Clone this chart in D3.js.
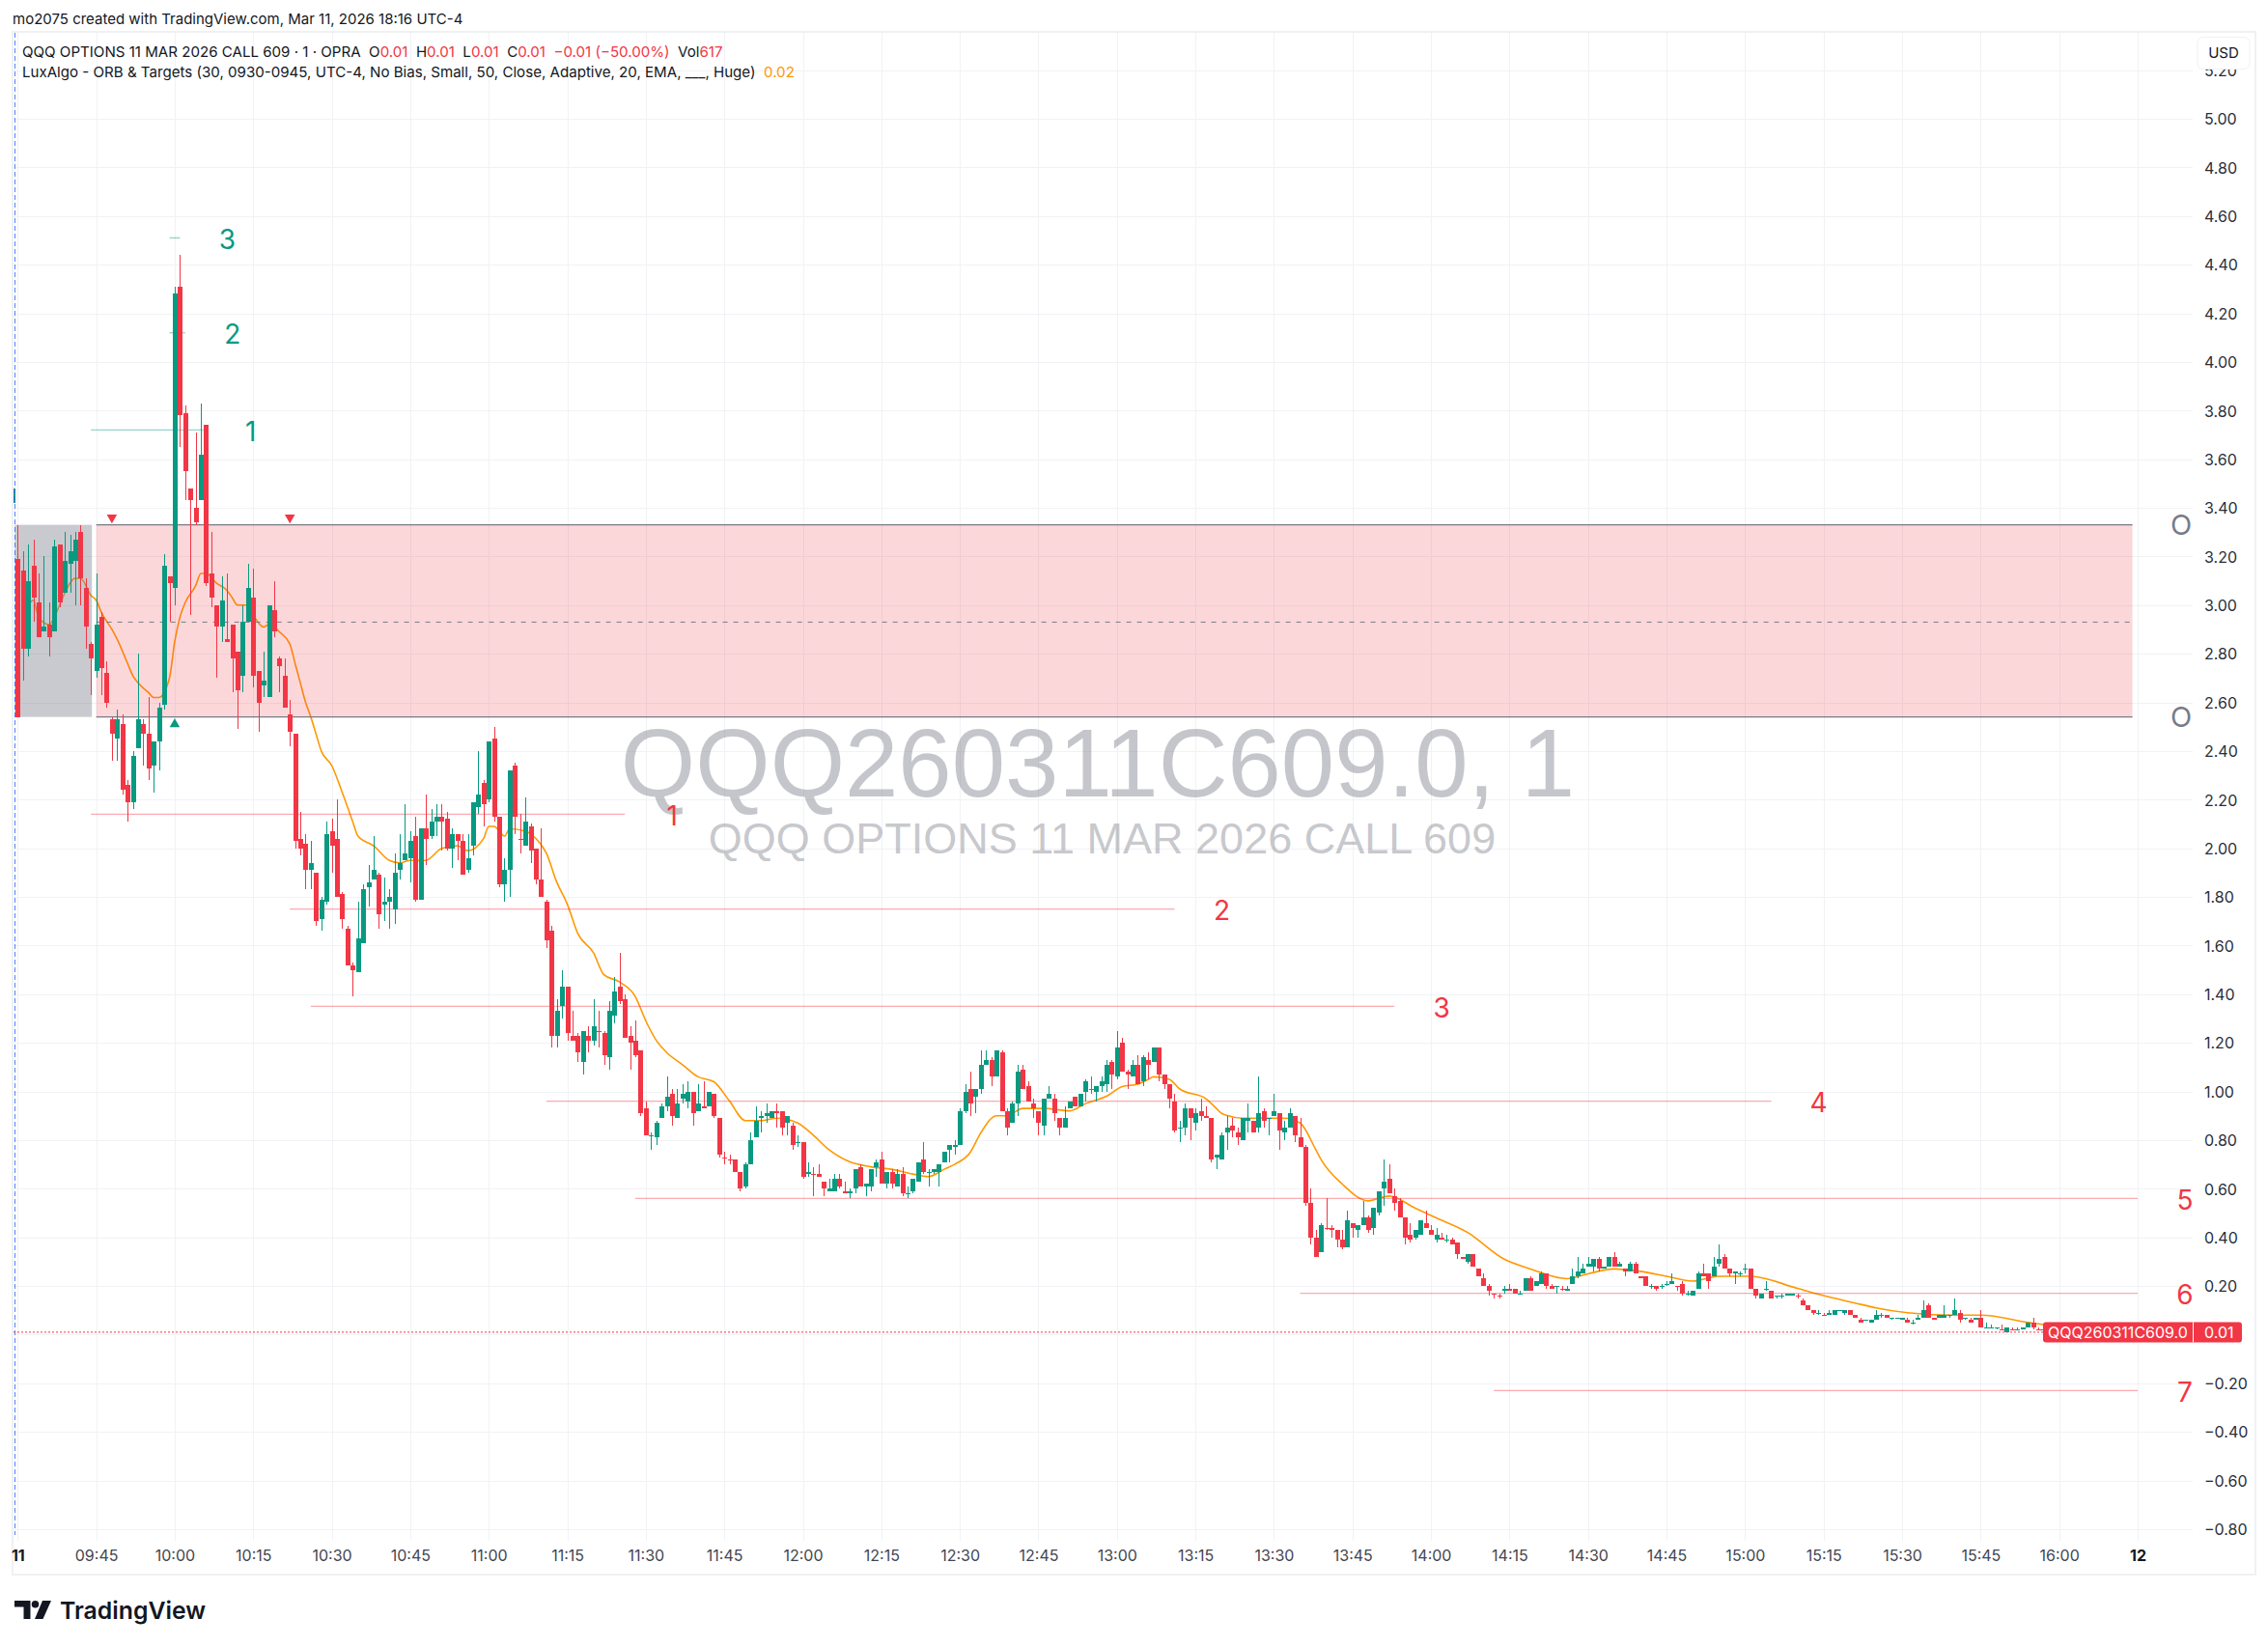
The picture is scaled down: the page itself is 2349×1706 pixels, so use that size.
<!DOCTYPE html>
<html>
<head>
<meta charset="utf-8">
<script src="https://cdn.jsdelivr.net/npm/d3@7"></script>
<style>
html, body { margin: 0; padding: 0; background: #fff; }
svg { display: block; font-family: Inter, "Noto Sans", sans-serif; }
</style>
</head>
<body>
<div id="chart"></div>
<script>
// minute of the session for each candle, 0 = 09:30 (-1 is the last bar of the day before)
var minutes = d3.range(-1, 390);

var opens = [3.42,
3.19,3.14,2.82,3.16,3.01,2.89,2.92,2.89,3.25,3.05,
3.17,3.18,3.30,3.07,2.84,2.73,2.95,2.72,2.53,2.45,
2.51,2.26,2.19,2.41,2.51,2.47,2.34,2.44,2.59,3.12,
3.07,4.31,3.79,3.48,3.40,3.43,3.74,3.13,3.00,2.91,
2.86,2.92,2.81,2.71,2.93,3.03,2.73,2.67,2.62,2.98,
2.78,2.71,2.55,2.47,2.04,2.02,1.91,1.90,1.71,1.78,
2.07,2.04,1.81,1.67,1.52,1.49,1.61,1.84,1.87,1.89,
1.77,1.78,1.75,1.91,1.95,1.96,2.05,1.79,2.08,2.05,
2.11,2.13,2.12,2.00,2.06,2.03,1.91,2.01,2.17,2.27,
2.20,2.45,2.13,1.85,1.91,2.34,2.04,2.01,2.09,2.00,
1.87,1.78,1.66,1.23,1.35,1.43,1.23,1.23,1.12,1.23,
1.21,1.25,1.24,1.14,1.31,1.43,1.38,1.23,1.21,1.17,
0.93,0.82,0.81,0.89,0.94,0.99,0.89,0.97,0.96,1.00,
0.92,0.94,0.94,0.99,0.89,0.73,0.72,0.72,0.67,0.61,
0.70,0.81,0.89,0.90,0.89,0.92,0.92,0.87,0.86,0.79,
0.79,0.66,0.66,0.66,0.63,0.59,0.59,0.64,0.59,0.58,
0.60,0.69,0.61,0.61,0.69,0.72,0.62,0.67,0.61,0.66,
0.58,0.59,0.63,0.72,0.67,0.67,0.67,0.71,0.76,0.77,
0.78,0.92,1.01,0.98,1.01,1.11,1.13,1.06,1.16,0.92,
0.87,0.95,1.09,1.02,0.95,0.92,0.86,0.97,0.97,0.89,
0.85,0.93,0.98,0.94,1.00,1.01,1.00,1.02,1.03,1.12,
1.06,1.20,1.08,1.06,1.11,1.04,1.13,1.12,1.18,1.07,
1.03,0.96,0.85,0.85,0.93,0.87,0.92,0.90,0.89,0.73,
0.72,0.83,0.86,0.83,0.80,0.88,0.88,0.85,0.92,0.89,
0.90,0.91,0.83,0.85,0.90,0.81,0.77,0.54,0.40,0.34,
0.44,0.44,0.43,0.39,0.36,0.46,0.43,0.45,0.48,0.44,
0.50,0.60,0.64,0.57,0.55,0.48,0.41,0.40,0.41,0.46,
0.43,0.39,0.40,0.39,0.39,0.38,0.32,0.30,0.33,0.27,
0.23,0.20,0.17,0.16,0.18,0.19,0.19,0.17,0.18,0.23,
0.20,0.21,0.25,0.20,0.20,0.19,0.18,0.21,0.24,0.25,
0.28,0.28,0.31,0.27,0.28,0.32,0.28,0.27,0.26,0.29,
0.24,0.24,0.20,0.20,0.20,0.21,0.21,0.20,0.21,0.17,
0.16,0.19,0.25,0.25,0.24,0.29,0.32,0.27,0.25,0.25,
0.27,0.27,0.19,0.15,0.19,0.18,0.16,0.16,0.16,0.16,
0.16,0.14,0.12,0.10,0.09,0.08,0.08,0.08,0.10,0.09,
0.10,0.08,0.06,0.06,0.05,0.06,0.08,0.08,0.07,0.07,
0.06,0.06,0.05,0.06,0.07,0.12,0.07,0.07,0.07,0.08,
0.08,0.09,0.07,0.06,0.06,0.07,0.03,0.03,0.03,0.02,
0.01,0.02,0.02,0.02,0.03,0.05,0.02,0.02,0.02,0.01];

var highs = [3.48,
3.33,3.22,3.25,3.27,3.13,3.20,3.01,3.27,3.25,3.30,
3.29,3.30,3.33,3.11,2.85,3.13,2.97,2.77,2.54,2.57,
2.55,2.28,2.40,2.80,2.53,2.62,2.44,2.60,3.21,3.12,
4.31,4.44,3.82,3.48,3.71,3.83,3.74,3.30,3.00,3.12,
3.13,2.92,2.81,3.00,3.17,3.15,2.73,2.81,3.00,3.10,
2.79,2.78,2.61,2.47,2.15,2.06,2.03,1.90,1.80,2.11,
2.12,2.20,1.82,1.68,1.53,1.78,1.85,1.93,2.05,1.90,
1.88,1.83,1.98,2.06,2.18,2.07,2.13,2.08,2.22,2.16,
2.18,2.18,2.15,2.08,2.06,2.06,2.06,2.19,2.40,2.28,
2.44,2.50,2.13,1.96,2.32,2.35,2.14,2.21,2.10,2.00,
2.08,1.79,1.68,1.38,1.50,1.43,1.33,1.24,1.25,1.27,
1.38,1.33,1.25,1.37,1.47,1.57,1.40,1.27,1.29,1.17,
0.96,0.83,0.88,0.95,1.06,1.01,1.01,1.03,1.04,1.00,
1.03,1.04,1.00,0.99,0.89,0.75,0.74,0.72,0.67,0.71,
0.83,0.94,0.92,0.95,0.92,0.95,0.92,0.90,0.87,0.82,
0.79,0.71,0.69,0.70,0.63,0.64,0.66,0.66,0.63,0.60,
0.68,0.70,0.62,0.68,0.72,0.75,0.67,0.68,0.68,0.69,
0.61,0.64,0.71,0.79,0.68,0.68,0.70,0.75,0.78,0.80,
0.93,1.03,1.08,1.01,1.17,1.17,1.14,1.17,1.17,0.93,
0.96,1.11,1.11,1.04,0.97,0.92,0.97,1.02,0.99,0.89,
0.94,0.96,0.98,0.99,1.05,1.06,1.02,1.06,1.13,1.13,
1.25,1.22,1.09,1.13,1.15,1.15,1.16,1.18,1.18,1.07,
1.03,0.99,0.88,0.95,0.93,0.93,0.97,0.94,0.89,0.74,
0.83,0.90,0.89,0.85,0.89,0.95,0.88,1.06,0.93,0.89,
0.99,0.91,0.88,0.93,0.90,0.89,0.78,0.60,0.43,0.46,
0.56,0.45,0.43,0.43,0.51,0.46,0.45,0.55,0.49,0.52,
0.59,0.72,0.70,0.60,0.56,0.48,0.46,0.43,0.47,0.51,
0.45,0.44,0.42,0.41,0.40,0.38,0.32,0.33,0.33,0.27,
0.25,0.21,0.17,0.17,0.20,0.21,0.19,0.18,0.23,0.24,
0.22,0.26,0.25,0.21,0.20,0.20,0.20,0.27,0.32,0.29,
0.32,0.31,0.32,0.28,0.32,0.34,0.30,0.27,0.30,0.30,
0.24,0.24,0.21,0.20,0.21,0.22,0.25,0.20,0.22,0.18,
0.18,0.26,0.29,0.25,0.32,0.37,0.33,0.27,0.26,0.26,
0.29,0.27,0.19,0.17,0.22,0.18,0.16,0.17,0.17,0.17,
0.17,0.15,0.12,0.10,0.10,0.09,0.10,0.10,0.10,0.10,
0.10,0.08,0.07,0.06,0.06,0.10,0.09,0.08,0.07,0.07,
0.07,0.07,0.06,0.08,0.14,0.13,0.07,0.08,0.12,0.08,
0.15,0.10,0.07,0.07,0.07,0.10,0.05,0.04,0.03,0.04,
0.03,0.03,0.03,0.03,0.05,0.07,0.03,0.02,0.02,0.01];

var lows = [3.42,
2.54,2.69,2.79,2.93,2.87,2.89,2.79,2.89,2.99,3.05,
3.05,3.00,3.00,2.82,2.63,2.70,2.63,2.58,2.36,2.36,
2.22,2.11,2.16,2.41,2.34,2.28,2.23,2.32,2.57,2.93,
3.00,3.65,3.43,2.96,3.33,3.43,3.08,2.99,2.70,2.85,
2.85,2.64,2.49,2.64,2.93,2.66,2.48,2.62,2.62,2.87,
2.64,2.58,2.42,2.00,1.97,1.83,1.83,1.68,1.66,1.77,
1.90,1.80,1.67,1.52,1.39,1.49,1.61,1.76,1.87,1.67,
1.70,1.67,1.69,1.87,1.95,1.86,1.78,1.79,1.93,2.04,
2.05,1.99,1.99,1.92,1.95,1.89,1.90,1.97,2.14,2.09,
2.19,2.11,1.84,1.78,1.80,2.06,1.98,2.01,1.94,1.85,
1.80,1.59,1.18,1.18,1.30,1.21,1.21,1.12,1.07,1.16,
1.19,1.18,1.11,1.09,1.28,1.36,1.22,1.09,1.14,0.90,
0.82,0.76,0.78,0.89,0.92,0.86,0.89,0.95,0.93,0.86,
0.92,0.93,0.94,0.89,0.73,0.70,0.70,0.67,0.59,0.60,
0.70,0.81,0.83,0.87,0.89,0.85,0.82,0.82,0.76,0.77,
0.64,0.65,0.57,0.65,0.57,0.59,0.59,0.60,0.58,0.56,
0.58,0.61,0.57,0.59,0.65,0.62,0.60,0.60,0.61,0.57,
0.56,0.58,0.63,0.66,0.61,0.66,0.61,0.71,0.71,0.74,
0.78,0.91,0.90,0.91,0.99,1.11,1.02,1.06,0.92,0.82,
0.87,0.90,1.01,0.96,0.89,0.82,0.82,0.97,0.88,0.82,
0.85,0.93,0.94,0.94,0.96,0.99,0.96,1.00,1.00,1.01,
1.05,1.08,1.01,1.06,1.03,1.02,1.05,1.12,1.04,1.01,
0.93,0.83,0.79,0.82,0.80,0.84,0.88,0.89,0.71,0.68,
0.72,0.76,0.81,0.78,0.80,0.83,0.83,0.83,0.85,0.82,
0.90,0.76,0.80,0.85,0.79,0.77,0.53,0.37,0.32,0.34,
0.43,0.40,0.36,0.35,0.36,0.40,0.40,0.45,0.42,0.41,
0.49,0.53,0.58,0.51,0.48,0.37,0.38,0.39,0.41,0.44,
0.41,0.38,0.39,0.38,0.37,0.31,0.31,0.29,0.28,0.24,
0.20,0.16,0.15,0.15,0.17,0.18,0.17,0.17,0.18,0.18,
0.20,0.21,0.19,0.19,0.17,0.18,0.18,0.21,0.23,0.25,
0.28,0.26,0.26,0.27,0.28,0.28,0.28,0.24,0.26,0.25,
0.23,0.20,0.19,0.18,0.19,0.20,0.21,0.18,0.16,0.16,
0.16,0.19,0.24,0.19,0.24,0.28,0.27,0.24,0.21,0.24,
0.25,0.19,0.15,0.15,0.18,0.15,0.15,0.15,0.16,0.16,
0.15,0.12,0.10,0.08,0.08,0.08,0.08,0.08,0.10,0.08,
0.08,0.07,0.05,0.06,0.05,0.06,0.07,0.07,0.06,0.07,
0.06,0.05,0.04,0.06,0.07,0.07,0.06,0.07,0.07,0.07,
0.08,0.05,0.06,0.05,0.06,0.03,0.03,0.03,0.02,0.02,
0.01,0.02,0.02,0.02,0.03,0.02,0.02,0.01,0.01,0.01];

var closes = [3.48,
2.54,2.82,3.10,3.03,2.87,2.91,2.87,3.24,3.01,3.18,
3.22,3.27,3.11,2.91,2.78,2.92,2.74,2.60,2.47,2.53,
2.24,2.19,2.38,2.53,2.47,2.33,2.44,2.58,3.16,3.09,
4.28,3.78,3.55,3.43,3.34,3.62,3.09,3.03,2.91,3.02,
2.85,2.78,2.65,2.93,3.07,2.71,2.60,2.69,3.00,2.89,
2.75,2.58,2.48,2.03,2.00,1.91,1.94,1.70,1.79,2.06,
2.01,1.80,1.71,1.52,1.50,1.63,1.83,1.86,1.91,1.73,
1.78,1.80,1.90,1.94,1.98,2.03,1.79,2.08,2.04,2.11,
2.13,2.11,2.00,2.06,2.03,1.89,1.96,2.19,2.22,2.18,
2.44,2.13,1.85,1.91,2.32,2.13,2.04,2.11,1.99,1.87,
1.80,1.62,1.23,1.33,1.43,1.24,1.21,1.16,1.25,1.21,
1.27,1.25,1.15,1.33,1.41,1.37,1.22,1.20,1.15,0.91,
0.82,0.82,0.87,0.94,0.98,0.90,0.95,0.99,1.00,0.91,
0.95,0.93,1.00,0.90,0.74,0.73,0.72,0.67,0.60,0.70,
0.80,0.88,0.90,0.91,0.92,0.91,0.85,0.90,0.78,0.79,
0.65,0.67,0.66,0.65,0.60,0.60,0.64,0.61,0.58,0.59,
0.68,0.61,0.62,0.68,0.71,0.62,0.67,0.62,0.66,0.58,
0.58,0.64,0.71,0.67,0.67,0.68,0.70,0.75,0.78,0.78,
0.92,1.00,0.95,1.01,1.11,1.13,1.06,1.17,0.92,0.85,
0.95,1.08,1.01,0.96,0.93,0.87,0.97,0.99,0.91,0.85,
0.89,0.96,0.94,0.99,1.04,1.01,1.02,1.04,1.11,1.07,
1.18,1.08,1.07,1.11,1.03,1.14,1.11,1.18,1.07,1.03,
0.97,0.84,0.85,0.93,0.89,0.91,0.90,0.89,0.72,0.74,
0.82,0.85,0.84,0.81,0.89,0.89,0.83,0.91,0.88,0.89,
0.92,0.84,0.85,0.91,0.82,0.77,0.54,0.40,0.32,0.45,
0.44,0.43,0.39,0.36,0.47,0.44,0.45,0.48,0.43,0.52,
0.59,0.63,0.58,0.54,0.48,0.40,0.39,0.43,0.47,0.44,
0.41,0.41,0.39,0.39,0.37,0.33,0.31,0.33,0.28,0.24,
0.20,0.18,0.17,0.16,0.19,0.18,0.17,0.17,0.23,0.18,
0.22,0.25,0.20,0.19,0.20,0.19,0.19,0.24,0.26,0.27,
0.29,0.31,0.27,0.28,0.32,0.28,0.29,0.26,0.29,0.25,
0.23,0.20,0.20,0.19,0.20,0.21,0.22,0.20,0.17,0.17,
0.18,0.25,0.24,0.22,0.28,0.31,0.27,0.25,0.26,0.25,
0.27,0.19,0.16,0.17,0.19,0.15,0.16,0.16,0.17,0.17,
0.16,0.12,0.10,0.09,0.09,0.08,0.09,0.10,0.10,0.10,
0.08,0.07,0.05,0.06,0.06,0.08,0.08,0.07,0.07,0.07,
0.07,0.05,0.05,0.07,0.10,0.07,0.06,0.08,0.08,0.08,
0.10,0.06,0.07,0.05,0.07,0.03,0.03,0.03,0.03,0.02,
0.03,0.02,0.02,0.03,0.05,0.03,0.02,0.02,0.01,0.01];

// bars that opened and closed flat but are painted red
var flatRed = [96,111,135,136,152,205,250,282,283,295,317,340,345,379,381,386,389];

// orange adaptive EMA, read at the turning points
var emaMinutes = [1,3,4,6,8,9,11,12,14,15,16,18,19,21,22,23,25,26,27,29,30,31,32,34,35,36,38,40,41,42,44,45,47,48,49,50,52,53,54,55,56,57,58,60,62,64,65,68,71,73,75,78,81,84,86,89,90,91,93,94,97,99,101,103,105,107,110,112,115,118,120,122,124,127,130,133,136,139,142,145,149,152,155,159,163,167,171,174,177,179,182,184,187,189,192,196,201,204,208,211,214,216,217,220,222,227,229,230,234,238,242,245,248,249,253,258,262,267,271,277,284,289,296,300,305,310,315,320,325,331,340,345,351,355,361,370,375,384,387,389];
var emaValues = [2.95,3.02,2.95,2.92,3.00,3.05,3.11,3.11,3.04,3.02,2.97,2.90,2.86,2.76,2.71,2.68,2.64,2.62,2.62,2.70,2.85,2.95,3.01,3.08,3.13,3.13,3.09,3.06,3.03,3.00,3.00,2.96,2.91,2.92,2.91,2.89,2.84,2.76,2.68,2.60,2.54,2.47,2.40,2.34,2.23,2.11,2.05,2.01,1.95,1.94,1.95,1.95,2.00,2.01,1.99,2.04,2.09,2.09,2.05,2.08,2.07,2.04,1.98,1.86,1.77,1.65,1.57,1.48,1.45,1.39,1.29,1.21,1.16,1.11,1.06,1.04,0.96,0.88,0.88,0.89,0.87,0.82,0.76,0.71,0.69,0.68,0.66,0.65,0.68,0.70,0.75,0.83,0.90,0.90,0.93,0.93,0.92,0.95,0.98,1.02,1.03,1.05,1.06,1.05,1.01,0.97,0.93,0.91,0.89,0.89,0.89,0.87,0.76,0.72,0.62,0.55,0.57,0.52,0.48,0.42,0.31,0.27,0.23,0.25,0.27,0.26,0.24,0.22,0.24,0.24,0.19,0.16,0.13,0.11,0.09,0.08,0.08,0.05,0.04,0.02];

// opening range
var orbHigh = 3.33, orbLow = 2.54, orbMid = 2.93;
var orbStart = 15, orbEnd = 404;

// long and short targets: price, label, first and last minute of the line
var longPrices = [3.72, 4.12, 4.51];
var longLabels = ["1", "2", "3"];
var longStart = [14, 29, 29];
var longEnd = [35.5, 32, 31];

var shortPrices = [2.14, 1.75, 1.35, 0.96, 0.56, 0.17, -0.23];
var shortLabels = ["1", "2", "3", "4", "5", "6", "7"];
var shortStart = [14, 52, 56, 101, 118, 245, 282];
var shortEnd = [116, 221, 263, 335, 405, 405, 405];

// breakout markers
var markerMinutes = [18, 52, 30];
var markerPrices = [3.36, 3.36, 2.51];
var markerKinds = ["down", "down", "up"];

var yTicks = [5.2,5,4.8,4.6,4.4,4.2,4,3.8,3.6,3.4,3.2,3,2.8,2.6,2.4,2.2,2,1.8,1.6,1.4,1.2,1,0.8,0.6,0.4,0.2,0,-0.2,-0.4,-0.6,-0.8];
var xTickMinutes = [0,15,30,45,60,75,90,105,120,135,150,165,180,195,210,225,240,255,270,285,300,315,330,345,360,375,390,405];
var xTickLabels = ["11","09:45","10:00","10:15","10:30","10:45","11:00","11:15","11:30","11:45","12:00","12:15","12:30","12:45","13:00","13:15","13:30","13:45","14:00","14:15","14:30","14:45","15:00","15:15","15:30","15:45","16:00","12"];

var lastPrice = 0.01;

var up = "#089981", down = "#f23645", ink = "#131722";
var width = 2349, height = 1706;
var pane = {left: 14, right: 2271, top: 34, bottom: 1596};

var svg = d3.select("#chart")
.append("svg")
.attr("width", width)
.attr("height", height);

var x = d3.scaleLinear().domain([0, 405]).range([18.3, 2214]);
var y = d3.scaleLinear().domain([0, 5]).range([1382.4, 123]);

svg.append("clipPath").attr("id", "paneClip").append("rect")
.attr("x", pane.left).attr("y", pane.top)
.attr("width", 2335 - pane.left).attr("height", 1631 - pane.top);

// outer frame
svg.append("rect")
.attr("x", 13).attr("y", 33)
.attr("width", 2323).attr("height", 1598)
.attr("fill", "none")
.attr("stroke", "#f0f1f4")
.attr("stroke-width", 2);

// grid comes from the two axes with long tick lines
var yGrid = d3.axisLeft(y).tickValues(yTicks).tickSize(pane.right - pane.left).tickFormat("");
svg.append("g")
.attr("transform", "translate(" + pane.right + ",0)")
.call(yGrid)
.call(g => g.select(".domain").remove())
.call(g => g.selectAll("line").attr("stroke", "#f1f2f5").attr("shape-rendering", "crispEdges"));

var xGrid = d3.axisTop(x).tickValues(xTickMinutes).tickSize(pane.bottom - pane.top).tickFormat("");
svg.append("g")
.attr("transform", "translate(0," + pane.bottom + ")")
.call(xGrid)
.call(g => g.select(".domain").remove())
.call(g => g.selectAll("line").attr("stroke", "#f1f2f5").attr("shape-rendering", "crispEdges"));

// watermark
svg.append("text")
.attr("x", 1137).attr("y", 825)
.attr("text-anchor", "middle")
.attr("font-family", "'Liberation Sans', Arial, sans-serif")
.attr("font-size", 99.5)
.attr("fill", "rgba(120,123,134,0.43)")
.text("QQQ260311C609.0, 1");

svg.append("text")
.attr("x", 1141.5).attr("y", 884)
.attr("text-anchor", "middle")
.attr("font-family", "'Liberation Sans', Arial, sans-serif")
.attr("font-size", 45)
.attr("fill", "rgba(120,123,134,0.43)")
.text("QQQ OPTIONS 11 MAR 2026 CALL 609");

// ema sits under the boxes and the candles
var emaLine = d3.line()
.x((d, i) => x(emaMinutes[i]))
.y(d => y(d))
.curve(d3.curveMonotoneX);

svg.append("path")
.datum(emaValues)
.attr("d", emaLine)
.attr("fill", "none")
.attr("stroke", "#ff9800")
.attr("stroke-width", 1.6);

// grey opening range and the pink zone after it
svg.append("rect")
.attr("x", x(0) - 3)
.attr("y", y(orbHigh))
.attr("width", x(orbStart - 1) - x(0) + 4)
.attr("height", y(orbLow) - y(orbHigh))
.attr("fill", "rgba(120,123,134,0.4)");

svg.append("rect")
.attr("x", x(orbStart))
.attr("y", y(orbHigh))
.attr("width", x(orbEnd) - x(orbStart))
.attr("height", y(orbLow) - y(orbHigh))
.attr("fill", "rgba(242,54,69,0.2)");

svg.selectAll(".orbEdge")
.data([orbHigh, orbLow])
.join("line")
.attr("class", "orbEdge")
.attr("x1", x(orbStart)).attr("x2", x(orbEnd))
.attr("y1", d => y(d)).attr("y2", d => y(d))
.attr("stroke", "#787b86")
.attr("stroke-width", 1.2);

svg.append("line")
.attr("x1", x(orbStart)).attr("x2", x(orbEnd))
.attr("y1", y(orbMid)).attr("y2", y(orbMid))
.attr("stroke", "#787b86")
.attr("stroke-width", 1)
.attr("stroke-dasharray", "5,6");

svg.selectAll(".orbLabel")
.data([orbHigh, orbLow])
.join("text")
.attr("class", "orbLabel")
.attr("x", 2259)
.attr("y", d => y(d))
.attr("dy", "0.36em")
.attr("text-anchor", "middle")
.attr("font-size", 29)
.attr("fill", "#787b86")
.text("O");

// target lines and their numbers
function drawTargets(prices, labels, starts, ends, color, name) {
    svg.selectAll(".line" + name)
    .data(prices)
    .join("line")
    .attr("class", "line" + name)
    .attr("x1", (d, i) => x(starts[i]))
    .attr("x2", (d, i) => x(ends[i]))
    .attr("y1", d => y(d))
    .attr("y2", d => y(d))
    .attr("stroke", color)
    .attr("stroke-opacity", 0.42)
    .attr("stroke-width", 1.4);

    svg.selectAll(".label" + name)
    .data(prices)
    .join("text")
    .attr("class", "label" + name)
    .attr("x", (d, i) => x(ends[i]) + 49)
    .attr("y", d => y(d))
    .attr("dy", "0.4em")
    .attr("text-anchor", "middle")
    .attr("font-size", 28)
    .attr("fill", color)
    .text((d, i) => labels[i]);
}
drawTargets(longPrices, longLabels, longStart, longEnd, up, "Long");
drawTargets(shortPrices, shortLabels, shortStart, shortEnd, down, "Short");

// candles
var isUp = function(i) {
    if (closes[i] !== opens[i]) return closes[i] > opens[i];
    return flatRed.indexOf(minutes[i]) < 0;
};

var candles = svg.append("g")
.attr("clip-path", "url(#paneClip)")
.attr("shape-rendering", "crispEdges");

candles.selectAll(".wick")
.data(minutes)
.join("rect")
.attr("class", "wick")
.attr("x", d => Math.round(x(d)))
.attr("y", (d, i) => Math.round(y(highs[i])))
.attr("width", 1)
.attr("height", (d, i) => Math.max(1, Math.round(y(lows[i])) - Math.round(y(highs[i]))))
.attr("fill", (d, i) => isUp(i) ? up : down);

candles.selectAll(".body")
.data(minutes)
.join("rect")
.attr("class", "body")
.attr("x", d => Math.round(x(d)) - 2)
.attr("y", (d, i) => Math.round(y(Math.max(opens[i], closes[i]))))
.attr("width", 5)
.attr("height", (d, i) => Math.max(1, Math.round(y(Math.min(opens[i], closes[i]))) - Math.round(y(Math.max(opens[i], closes[i])))))
.attr("fill", (d, i) => isUp(i) ? up : down);

// breakout triangles
svg.selectAll(".marker")
.data(markerMinutes)
.join("path")
.attr("class", "marker")
.attr("d", d3.symbol().type(d3.symbolTriangle).size(48))
.attr("transform", (d, i) => "translate(" + x(d) + "," + y(markerPrices[i]) + ")" + (markerKinds[i] == "down" ? " rotate(180)" : ""))
.attr("fill", (d, i) => markerKinds[i] == "down" ? down : up);

// session break, blue dashes
svg.append("line")
.attr("x1", 15.5).attr("x2", 15.5)
.attr("y1", pane.top).attr("y2", 1590)
.attr("stroke", "#2962ff")
.attr("stroke-opacity", 0.8)
.attr("stroke-dasharray", "5,3");

// last price line
svg.append("line")
.attr("x1", pane.left).attr("x2", 2116)
.attr("y1", y(lastPrice)).attr("y2", y(lastPrice))
.attr("stroke", down)
.attr("stroke-dasharray", "2,2");

// price axis
var yAxis = d3.axisRight(y)
.tickValues(yTicks)
.tickSize(0)
.tickPadding(12)
.tickFormat(d => d3.format(".2f")(d).replace("-", "\u2212"));

svg.append("g")
.attr("transform", "translate(2271,0)")
.call(yAxis)
.call(g => g.select(".domain").remove())
.call(g => g.selectAll("text").attr("font-size", 16).attr("dy", "0.36em").attr("font-family", "Inter").attr("fill", "#2a2e39"));

// time axis
var xAxis = d3.axisBottom(x)
.tickValues(xTickMinutes)
.tickSize(0)
.tickPadding(0)
.tickFormat((d, i) => xTickLabels[i]);

svg.append("g")
.attr("transform", "translate(0,1606)")
.call(xAxis)
.call(g => g.select(".domain").remove())
.call(g => g.selectAll("text")
    .attr("font-size", 16)
    .attr("font-family", "Inter")
    .attr("fill", "#434651"))
.call(g => g.selectAll(".tick").filter(d => d == 0 || d == 405).select("text")
    .attr("font-weight", 700)
    .attr("fill", ink));

// mask the part of "11" hanging over the left edge
svg.append("rect")
.attr("x", 0).attr("y", 1600)
.attr("width", 12).attr("height", 30)
.attr("fill", "#fff");

// price tag over the axis
svg.append("rect")
.attr("x", 2116).attr("y", y(lastPrice) - 10.5)
.attr("width", 206).attr("height", 21)
.attr("rx", 3)
.attr("fill", down);

svg.append("line")
.attr("x1", 2271.5).attr("x2", 2271.5)
.attr("y1", y(lastPrice) - 10.5).attr("y2", y(lastPrice) + 10.5)
.attr("stroke", "#fff");

svg.append("text")
.attr("x", 2121).attr("y", y(lastPrice))
.attr("dy", "0.36em")
.attr("font-size", 16)
.attr("fill", "#fff")
.text("QQQ260311C609.0");

svg.append("text")
.attr("x", 2283).attr("y", y(lastPrice))
.attr("dy", "0.36em")
.attr("font-size", 16)
.attr("fill", "#fff")
.text(d3.format(".2f")(lastPrice));

// currency button
svg.append("rect")
.attr("x", 2276).attr("y", 38.5)
.attr("width", 54).attr("height", 33)
.attr("rx", 6)
.attr("fill", "#fff")
.attr("stroke", "#f0f1f4");

svg.append("text")
.attr("x", 2303).attr("y", 55)
.attr("dy", "0.36em")
.attr("text-anchor", "middle")
.attr("font-size", 15)
.attr("fill", ink)
.text("USD");

// header and legend
svg.append("text")
.attr("x", 13).attr("y", 25)
.attr("font-size", 15)
.attr("fill", ink)
.text("mo2075 created with TradingView.com, Mar 11, 2026 18:16 UTC-4");

var legend1 = svg.append("text")
.attr("x", 23).attr("y", 59)
.attr("font-size", 15.1)
.attr("fill", ink);

[["QQQ OPTIONS 11 MAR 2026 CALL 609 \u00b7 1 \u00b7 OPRA  O", ink], ["0.01", down], ["  H", ink], ["0.01", down], ["  L", ink], ["0.01", down], ["  C", ink], ["0.01", down], ["  \u22120.01 (\u221250.00%)", down], ["  Vol", ink], ["617", down]]
.forEach(function(p) {
    legend1.append("tspan").attr("fill", p[1]).style("white-space", "pre").text(p[0]);
});

var legend2 = svg.append("text")
.attr("x", 23).attr("y", 80)
.attr("font-size", 15.1)
.attr("fill", ink);

legend2.append("tspan").style("white-space", "pre")
.text("LuxAlgo - ORB & Targets (30, 0930-0945, UTC-4, No Bias, Small, 50, Close, Adaptive, 20, EMA, ___, Huge)  ");
legend2.append("tspan").attr("fill", "#ff9800").text("0.02");

// logo
var logo = svg.append("g")
.attr("transform", "translate(15,1658)")
.attr("fill", ink);
logo.append("path").attr("d", "M16.5 0H0v6.5h9.5V19h7Z");
logo.append("circle").attr("cx", 21.5).attr("cy", 3.8).attr("r", 3.8);
logo.append("path").attr("d", "M38 0H29L21 19h8.5Z");

svg.append("text")
.attr("x", 62).attr("y", 1677)
.attr("font-size", 24.8)
.attr("font-weight", 600)
.attr("fill", ink)
.text("TradingView");
</script>
</body>
</html>
